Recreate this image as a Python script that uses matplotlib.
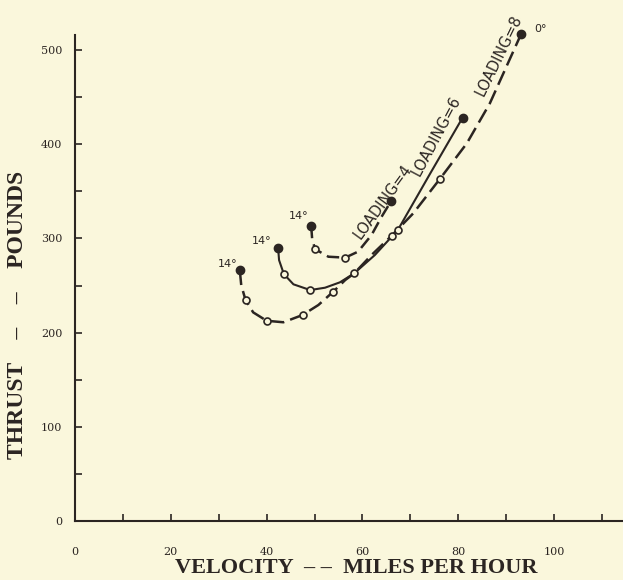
import matplotlib.pyplot as plt
from matplotlib.ticker import MultipleLocator, FixedLocator

# curve paths (velocity mph, thrust lb)
l8_vel = [34.4, 34.7, 35.6, 37.2, 40.0, 43.5, 47.5, 50.8, 53.9, 56.4, 58.3, 61.9,
          66.1, 70.6, 76.1, 81.8, 86.6, 93.1]
l8_thr = [266.4, 250.5, 234.6, 221.5, 212.6, 211.0, 218.7, 229.3, 243.4, 255.8, 263.0, 282.4,
          302.9, 326.6, 362.7, 401.0, 443.4, 516.7]
l6_vel = [42.4, 42.6, 43.6, 45.6, 49.1, 52.2, 55.3, 58.3, 62.6, 67.4, 74.1, 80.9]
l6_thr = [290.1, 277.0, 262.2, 251.3, 245.2, 247.7, 253.4, 263.0, 282.4, 309.0, 368.5, 428.1]
l4_vel = [49.3, 49.5, 50.1, 52.9, 56.4, 59.1, 61.9, 64.0, 66.0]
l4_thr = [313.5, 300.0, 288.7, 280.6, 279.6, 286.0, 303.6, 323.0, 339.7]

# open circles on each curve
l8_pts_vel = [35.6, 40.0, 47.5, 53.9, 58.3, 66.1, 76.1]
l8_pts_thr = [234.6, 212.6, 218.7, 243.4, 263.0, 302.9, 362.7]
l6_pts_vel = [43.6, 49.1, 67.4]
l6_pts_thr = [262.2, 245.2, 309.0]
l4_pts_vel = [50.1, 56.4]
l4_pts_thr = [288.7, 279.6]

bg = '#faf7dc'
ink = '#2b2522'

fig = plt.figure(figsize=(6.23, 5.8), dpi=100, facecolor=bg)
ax = fig.add_axes([75 / 623, 59 / 580, 548 / 623, 486 / 580], facecolor=bg)

ax.plot(l8_vel, l8_thr, color=ink, lw=1.8, dashes=(6, 2.5), clip_on=False)
ax.plot(l6_vel, l6_thr, color=ink, lw=1.5, clip_on=False)
ax.plot(l4_vel, l4_thr, color=ink, lw=1.8, dashes=(5, 2.5), clip_on=False)

for v, t in [(l8_pts_vel, l8_pts_thr), (l6_pts_vel, l6_pts_thr), (l4_pts_vel, l4_pts_thr)]:
    ax.plot(v, t, 'o', ms=5, mfc=bg, mec=ink, mew=1.2, zorder=3)

# filled end points
ax.plot([l8_vel[0], l6_vel[0], l4_vel[0], l8_vel[-1], l6_vel[-1], l4_vel[-1]],
        [l8_thr[0], l6_thr[0], l4_thr[0], l8_thr[-1], l6_thr[-1], l4_thr[-1]],
        'o', ms=6, color=ink, zorder=4, clip_on=False)

lab = dict(color=ink, fontsize=8, family='DejaVu Sans')
ax.text(31.9, 268, '14°', ha='center', va='bottom', **lab)
ax.text(39.0, 292, '14°', ha='center', va='bottom', **lab)
ax.text(46.6, 318, '14°', ha='center', va='bottom', **lab)
ax.text(97.1, 522, '0°', ha='center', va='center', **lab)

ax.text(64.3, 339, 'LOADING=4', rotation=54, ha='center', va='center',
        rotation_mode='anchor', color=ink, fontsize=10.5)
ax.text(75.4, 409, 'LOADING=6', rotation=62, ha='center', va='center',
        rotation_mode='anchor', color=ink, fontsize=10.5)
ax.text(88.5, 494, 'LOADING=8', rotation=64, ha='center', va='center',
        rotation_mode='anchor', color=ink, fontsize=10.5)

ax.set_xlim(0, 114.4)
ax.set_ylim(0, 516)
ax.spines['top'].set_visible(False)
ax.spines['right'].set_visible(False)
for s in ['left', 'bottom']:
    ax.spines[s].set_color(ink)
    ax.spines[s].set_linewidth(1.5)

ax.xaxis.set_major_locator(FixedLocator([0, 20, 40, 60, 80, 100]))
ax.xaxis.set_minor_locator(MultipleLocator(10))
ax.yaxis.set_major_locator(MultipleLocator(100))
ax.yaxis.set_minor_locator(MultipleLocator(50))
ax.tick_params(which='both', direction='in', color=ink, width=1.2, length=5,
               labelsize=8, labelcolor=ink)
ax.tick_params(axis='x', which='major', pad=19)
ax.tick_params(axis='y', which='major', pad=9)
for t in ax.get_xticklabels() + ax.get_yticklabels():
    t.set_family('DejaVu Serif')

ax.set_xlabel('VELOCITY  – –  MILES PER HOUR', fontsize=16, fontweight='bold',
              family='Liberation Serif', color=ink)
ax.set_ylabel('THRUST    –    –    POUNDS', fontsize=17, fontweight='bold',
              family='Liberation Serif', color=ink)
ax.xaxis.set_label_coords(0.513, -0.077)
ax.yaxis.set_label_coords(-0.086, 0.424)

fig.savefig('out.png', dpi=100, facecolor=bg)
